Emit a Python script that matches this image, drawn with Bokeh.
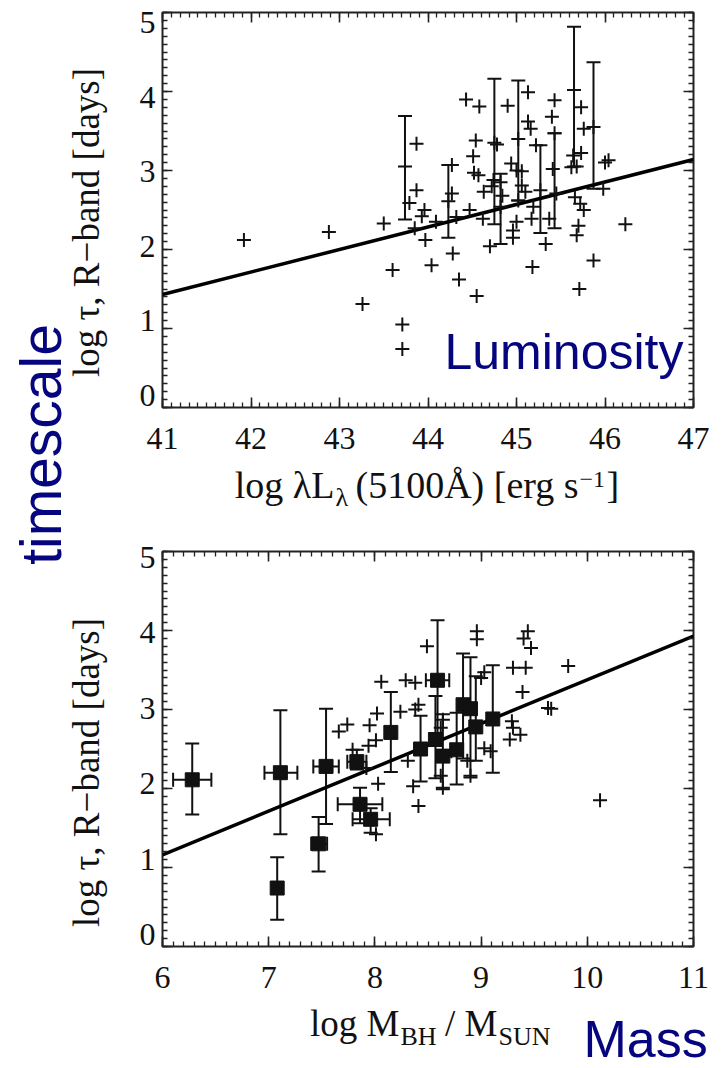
import math
from bokeh.plotting import figure
from bokeh.models import (ColumnDataSource, Whisker, TeeHead, Label, LinearAxis,
                          SingleIntervalTicker, Range1d, CustomJSTickFormatter)
from bokeh.layouts import row, column
from bokeh.embed import file_html
from bokeh.resources import INLINE

# ---------------- data: luminosity panel ----------------
lum_x = [41.92, 42.88, 43.50, 43.26, 43.60, 43.71, 43.71, 43.87, 43.87, 43.79,
         43.74, 43.96, 43.93, 43.85, 43.97, 44.04, 44.09, 44.27, 44.23, 44.27,
         44.28, 44.35, 44.32, 44.43, 44.58, 44.55, 44.47, 44.54, 44.51, 44.52,
         44.57, 44.63, 44.62, 44.70, 44.75, 44.78, 44.74, 44.72, 44.82, 44.84,
         44.82, 44.90, 45.02, 45.13, 45.13, 45.16, 45.22, 44.94, 45.00, 45.06,
         45.06, 45.10, 45.02, 45.00, 44.96, 44.96, 45.19, 45.17, 45.27, 45.33,
         45.18, 45.37, 45.43, 45.40, 45.43, 45.41, 45.45, 45.65, 45.73, 45.76,
         45.73, 45.64, 45.62, 45.68, 45.66, 45.72, 45.76, 45.70, 45.68, 45.87,
         45.71, 45.87, 45.98, 46.00, 46.04, 46.23]
lum_y = [2.12, 2.22, 2.33, 1.31, 1.74, 1.05, 0.74, 3.34, 2.75, 2.59,
         3.05, 2.50, 2.42, 2.27, 2.12, 1.80, 2.35, 3.07, 2.61, 2.71,
         1.95, 1.62, 2.41, 3.90, 3.81, 1.41, 2.50, 3.38, 3.18, 2.97,
         2.94, 2.73, 2.39, 2.04, 3.35, 3.33, 2.88, 2.80, 2.85, 2.68,
         2.54, 3.82, 3.40, 3.99, 3.62, 3.53, 3.32, 3.09, 3.00, 2.99,
         2.81, 2.73, 2.62, 2.35, 2.24, 2.15, 2.54, 2.39, 2.75, 2.07,
         1.78, 2.39, 3.89, 3.68, 3.47, 3.02, 2.71, 4.02, 3.80, 3.53,
         3.22, 3.19, 3.04, 3.05, 2.66, 2.58, 2.50, 2.30, 2.18, 1.86,
         1.50, 3.55, 2.77, 3.10, 3.13, 2.32]
lum_err_x = [43.74, 44.23, 44.75, 44.82, 45.02, 45.27, 45.43, 45.65, 45.87]
lum_err_lo = [2.38, 2.15, 2.32, 2.07, 2.62, 2.21, 2.27, 3.05, 2.77]
lum_err_hi = [3.69, 3.07, 4.16, 2.96, 4.14, 3.32, 3.47, 4.82, 4.37]
lum_fit_x = [41, 47]
lum_fit_y = [1.43, 3.14]

# ---------------- data: mass panel ----------------
mass_x = [8.06, 8.29, 8.38, 8.49, 8.96, 8.96, 9.44, 9.40, 9.47, 9.30,
          9.42, 9.82, 9.39, 9.63, 9.66, 10.12, 8.02, 7.74, 7.66, 7.95,
          8.01, 7.94, 7.79, 7.92, 8.03, 8.24, 8.38, 8.41, 8.31, 8.36,
          8.41, 8.01, 8.64, 8.62, 9.03, 9.00, 9.29, 9.30, 9.37, 9.27,
          9.03, 9.09, 8.90, 8.62, 8.64, 8.72, 8.87]
mass_y = [3.35, 3.37, 3.34, 3.80, 3.99, 3.89, 3.99, 3.90, 3.78, 3.53,
          3.53, 3.55, 3.22, 3.02, 3.01, 1.85, 2.95, 2.81, 2.72, 2.80,
          2.61, 2.54, 2.49, 2.26, 2.06, 2.97, 3.00, 3.06, 2.35, 2.03,
          1.78, 1.42, 2.87, 2.77, 3.47, 3.40, 2.85, 2.77, 2.68, 2.62,
          2.51, 2.47, 2.16, 2.16, 2.01, 2.47, 2.35]
rm_x = [6.28, 7.11, 7.08, 7.47, 7.54, 7.83, 7.86, 7.96, 8.15, 8.59,
        8.43, 8.57, 8.64, 8.77, 8.83, 8.90, 8.95, 9.11]
rm_y = [2.11, 2.20, 0.74, 1.30, 2.28, 2.34, 1.80, 1.61, 2.71, 3.37,
        2.50, 2.62, 2.41, 2.49, 3.06, 3.01, 2.78, 2.88]
rm_y_lo = [1.67, 1.42, 0.34, 0.95, 1.55, 2.24, 1.56, 1.44, 2.21, 2.64,
           2.09, 2.13, 1.99, 2.05, 2.38, 2.14, 2.35, 2.20]
rm_y_hi = [2.57, 2.99, 1.13, 1.64, 3.01, 2.49, 2.01, 1.75, 3.22, 4.13,
           2.92, 3.17, 2.94, 2.96, 3.71, 3.66, 3.42, 3.56]
rmx_y = [2.11, 2.20, 1.30, 2.28, 2.34, 1.80, 1.61, 3.37]
rmx_lo = [6.10, 6.96, 7.40, 7.42, 7.74, 7.65, 7.79, 8.48]
rmx_hi = [6.46, 7.27, 7.55, 7.66, 7.92, 8.07, 8.14, 8.70]
mass_fit_x = [6, 11]
mass_fit_y = [1.16, 3.93]

NAVY = "#05057f"
INK = "#111111"
SERIF = "Liberation Serif"
SANS = "Liberation Sans"
K = 0.40  # anchor ("middle") sits this many em above the glyph baseline


def tick_axis_style(ax, minor=10):
    ax.ticker = SingleIntervalTicker(interval=1, num_minor_ticks=minor)
    ax.axis_line_color = None
    ax.major_tick_in = 10
    ax.major_tick_out = 0
    ax.minor_tick_in = 5
    ax.minor_tick_out = 0
    ax.major_tick_line_width = 1.6
    ax.minor_tick_line_width = 1.3
    ax.major_tick_line_color = "#222222"
    ax.minor_tick_line_color = "#222222"


def hide_labels(ax):
    ax.formatter = CustomJSTickFormatter(code="return ''")
    ax.major_label_standoff = 0
    ax.major_label_text_font_size = "8px"


def no_align(f):
    if "frame_align" in f.properties():
        f.frame_align = False


def make_panel(xr, height, top, lab_start, lab_end):
    p = figure(width=605, height=height, x_range=Range1d(*xr), y_range=Range1d(0, 5),
               y_axis_location=None, toolbar_location=None, output_backend="svg",
               min_border_left=42, min_border_right=32, min_border_top=top,
               min_border_bottom=height - top - 395)
    p.extra_y_ranges = {"lab": Range1d(lab_start, lab_end)}
    bx = p.xaxis[0]
    tick_axis_style(bx)
    bx.major_label_text_font = SERIF
    bx.major_label_text_font_size = "32px"
    bx.major_label_text_color = INK
    bx.major_label_standoff = 20
    lt = LinearAxis()
    p.add_layout(lt, "left")
    tick_axis_style(lt)
    hide_labels(lt)
    ll = LinearAxis(y_range_name="lab")
    p.add_layout(ll, "left")
    ll.ticker = SingleIntervalTicker(interval=1, num_minor_ticks=0)
    ll.axis_line_color = None
    ll.major_tick_line_color = None
    ll.minor_tick_line_color = None
    ll.major_tick_in = 0
    ll.major_tick_out = 0
    ll.major_label_text_font = SERIF
    ll.major_label_text_font_size = "32px"
    ll.major_label_text_color = INK
    ll.major_label_standoff = 7
    for loc in ("above", "right"):
        ax = LinearAxis()
        p.add_layout(ax, loc)
        tick_axis_style(ax)
        hide_labels(ax)
    p.xgrid.visible = False
    p.ygrid.visible = False
    p.outline_line_color = "#222222"
    p.outline_line_width = 2
    return p


def make_strip(w, h):
    s = figure(width=w, height=h, x_range=Range1d(0, w), y_range=Range1d(0, h),
               x_axis_type=None, y_axis_type=None, toolbar_location=None,
               output_backend="svg", min_border=0)
    no_align(s)
    s.outline_line_color = None
    s.xgrid.visible = False
    s.ygrid.visible = False
    return s


def put(f, x, base, text, size, font=SERIF, color=INK, align="left", vertical=False):
    """base: glyph baseline position (data/y-up units for horizontal, x for vertical)."""
    if vertical:
        f.add_layout(Label(x=base - K * size, y=x, text=text, angle=math.pi / 2,
                           text_font=font, text_font_size=f"{size}px", text_color=color,
                           text_align=align, text_baseline="middle"))
    else:
        f.add_layout(Label(x=x, y=base + K * size, text=text, text_font=font,
                           text_font_size=f"{size}px", text_color=color,
                           text_align=align, text_baseline="middle"))


def whisker(src, base, dim):
    return Whisker(source=src, base=base, lower="lo", upper="hi", dimension=dim,
                   line_width=2, line_color=INK,
                   lower_head=TeeHead(size=14, line_width=2, line_color=INK),
                   upper_head=TeeHead(size=14, line_width=2, line_color=INK))


# ---------------- left strip: "timescale" and y titles ----------------
L = make_strip(120, 1068)
put(L, 1068 - 444, 63, "timescale", 57, font=SANS, color=NAVY, align="center", vertical=True)
put(L, 1068 - 222, 101, "log τ, R−band [days]", 37, align="center", vertical=True)
put(L, 1068 - 772, 101, "log τ, R−band [days]", 37, align="center", vertical=True)

# ---------------- top panel (page y 0..463) ----------------
p1 = make_panel((41, 47), 463, 12, -0.161, 5.134)
p1.add_layout(whisker(ColumnDataSource(dict(x=lum_err_x, lo=lum_err_lo, hi=lum_err_hi)),
                      "x", "height"))
p1.line(lum_fit_x, lum_fit_y, line_width=3.5, line_color="black")
p1.scatter(lum_x, lum_y, marker="cross", size=14, line_width=2, line_color=INK)
p1.add_layout(Label(x=41 + (444 - 162) / 88.5, y=(407 - 371 + K * 50) / 79.0,
                    text="Luminosity", text_font=SANS, text_font_size="50px",
                    text_color=NAVY, text_align="left", text_baseline="middle"))

# strip under the top panel: page y 463..530, page x 120..725
S1 = make_strip(605, 67)
put(S1, 214, 530 - 500, "log λL", 38, align="right")
put(S1, 215, 530 - 507, "λ", 26)
put(S1, 458, 530 - 500, "(5100Å) [erg s", 38, align="right")
put(S1, 459, 530 - 489, "−1", 24)
put(S1, 486, 530 - 500, "]", 38)

# ---------------- bottom panel (page y 530..1002) ----------------
p2 = make_panel((6, 11), 472, 21, -0.159, 5.080)
src_rm = ColumnDataSource(dict(x=rm_x, y=rm_y, lo=rm_y_lo, hi=rm_y_hi))
p2.add_layout(whisker(src_rm, "x", "height"))
p2.add_layout(whisker(ColumnDataSource(dict(y=rmx_y, lo=rmx_lo, hi=rmx_hi)), "y", "width"))
p2.line(mass_fit_x, mass_fit_y, line_width=3.5, line_color="black")
p2.scatter(mass_x, mass_y, marker="cross", size=14, line_width=2, line_color=INK)
p2.scatter("x", "y", source=src_rm, marker="square", size=14, fill_color=INK, line_color=INK)

# strip under the bottom panel: page y 1002..1068
S2 = make_strip(605, 66)
put(S2, 279, 1068 - 1038, "log M", 37, align="right")
put(S2, 280, 1068 - 1046, "BH", 26)
put(S2, 377, 1068 - 1038, "/ M", 37, align="right")
put(S2, 378, 1068 - 1046, "SUN", 26)
put(S2, 463, 1068 - 1059, "Mass", 52, font=SANS, color=NAVY)

layout = row(L, column(p1, S1, p2, S2))
no_align(L)
open("out.html", "w").write(file_html(layout, INLINE))
